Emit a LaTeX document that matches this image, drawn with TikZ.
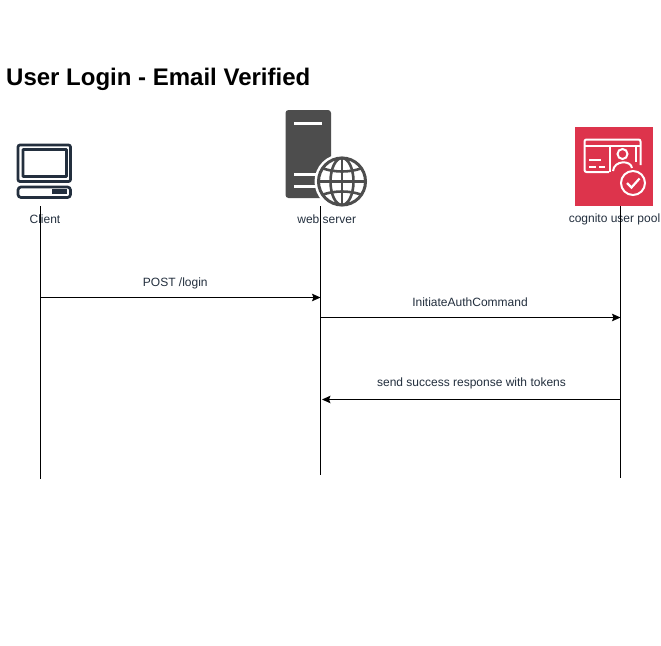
\documentclass[tikz,border=0pt]{standalone}
\usepackage{fontspec}
\setmainfont{Liberation Sans}
\usetikzlibrary{arrows.meta}
\definecolor{clientc}{HTML}{232F3E}
\definecolor{serverc}{HTML}{4D4D4D}
\definecolor{cognitoc}{HTML}{DD344C}
\definecolor{textc}{HTML}{232F3E}
\tikzset{
  lifeline/.style={draw=black,line width=0.9pt},
  msg/.style={draw=black,line width=0.9pt,-{Stealth[length=8.5pt,width=7.5pt,inset=1.5pt]}},
  lbl/.style={font=\fontsize{12}{14}\selectfont,text=textc,inner sep=0pt,anchor=center},
  iconlbl/.style={font=\fontsize{12}{14}\selectfont,text=textc,inner sep=0pt,anchor=center},
  clientline/.style={draw=clientc,line width=2.7pt,fill=none,rounded corners=2pt},
  whiteline/.style={draw=white,line width=2pt,fill=none},
  globeline/.style={draw=serverc,line width=2.6pt,fill=none},
}
\begin{document}
\begin{tikzpicture}[x=1pt,y=-1pt]
\useasboundingbox (0,0) rectangle (661,645);
\fill[white] (0,0) rectangle (661,645);
% title
\node[anchor=west,inner sep=0pt,font=\fontsize{24}{28}\selectfont\bfseries,text=black] (title) at (6,79.5) {User Login - Email Verified};
% client icon
\draw[clientline] (18,145) rectangle (70.5,181.5);
\draw[clientline,rounded corners=0.5pt] (23,149.5) rectangle (66.5,176.5);
\draw[clientline,rounded corners=3pt] (18,187) rectangle (70.5,197.5);
\fill[clientc] (52,189) rectangle (67,193.5);
% server icon
\fill[serverc,rounded corners=3pt] (285.5,110) rectangle (331,198);
\fill[white] (294,122) rectangle (322,125);
\fill[white] (294,172.5) rectangle (322,175.5);
\fill[white] (294,184.5) rectangle (322,187.5);
\fill[white] (342,181.5) circle (27.5);
\draw[globeline,line width=3pt] (342,181.5) circle (23.5);
\draw[globeline] (342,158) -- (342,205);
\draw[globeline] (318.5,181.5) -- (365.5,181.5);
\draw[globeline] (342,181.5) ellipse (11.5 and 23.5);
\draw[globeline] (323,168.5) .. controls (335,172.5) and (349,172.5) .. (361,168.5);
\draw[globeline] (323,194.5) .. controls (335,190.5) and (349,190.5) .. (361,194.5);
% cognito icon
\fill[cognitoc] (575,127) rectangle (653,206);
\draw[whiteline,rounded corners=2pt] (609,172) -- (584.5,172) -- (584.5,139.5) -- (640.5,139.5) -- (640.5,165);
\draw[whiteline] (584.5,145.5) -- (609,145.5);
\draw[whiteline] (636,145.5) -- (640.5,145.5);
\draw[whiteline] (609.5,171.5) -- (609.5,145.5) -- (635.5,145.5) -- (635.5,162);
\draw[whiteline] (622.5,154) circle (5);
\draw[whiteline] (613,171) .. controls (614,160) and (631,160) .. (632,168);
\draw[whiteline] (589,160) -- (601,160);
\draw[whiteline] (589,167) -- (596,167);
\draw[whiteline] (599,167) -- (605,167);
\fill[cognitoc] (633,183) circle (14.5);
\draw[whiteline] (633,183) circle (12);
\draw[whiteline,line width=2.2pt] (627,183) -- (631.5,187.5) -- (639.5,178.5);
% labels
\node[iconlbl] (client) at (45,219.5) {Client};
\node[iconlbl] (server) at (326.7,219.5) {web server};
\node[iconlbl] (pool) at (614.5,219.5) {cognito user pool};
% lifelines
\coordinate (ct) at (40.5,206);
\coordinate (cb) at (40.5,479);
\coordinate (st) at (320.5,206);
\coordinate (sb) at (320.5,475);
\coordinate (pt) at (620.5,206);
\coordinate (pb) at (620.5,478);
\draw[lifeline] (ct) -- (cb);
\draw[lifeline] (st) -- (sb);
\draw[lifeline] (pt) -- (pb);
% messages
\coordinate (m1a) at (40.5,297.5);
\coordinate (m1b) at (320.5,297.5);
\coordinate (m2a) at (320.5,317.5);
\coordinate (m2b) at (620.5,317.5);
\coordinate (m3a) at (620.5,399.5);
\coordinate (m3b) at (322,399.5);
\draw[msg] (m1a) -- (m1b);
\draw[msg] (m2a) -- (m2b);
\draw[msg] (m3a) -- (m3b);
\node[lbl] (l1) at (175.3,283.5) {POST /login};
\node[lbl] (l2) at (470,302.3) {InitiateAuthCommand};
\node[lbl] (l3) at (471.5,383.5) {send success response with tokens};
\end{tikzpicture}
\end{document}
